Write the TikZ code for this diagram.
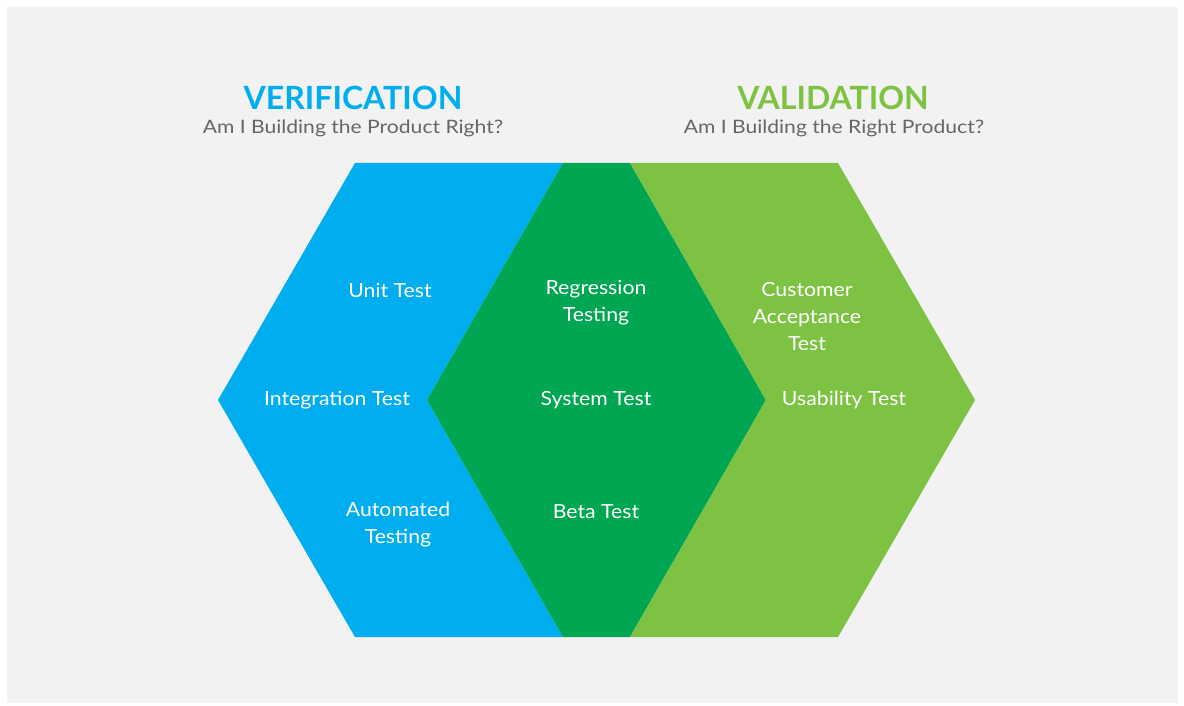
\documentclass[tikz,border=0pt]{standalone}
\usepackage{fontspec}
\setmainfont{Lato}
\newfontfamily\labelfont[FakeStretch=1.09]{Lato}
\newfontfamily\subfont[FakeStretch=1.14]{Lato}
\definecolor{vblue}{HTML}{00AEEF}
\definecolor{dgreen}{HTML}{00A651}
\definecolor{lgreen}{HTML}{7DC242}
\definecolor{bggray}{HTML}{F2F2F2}
\definecolor{subgray}{HTML}{666666}
\begin{document}
\begin{tikzpicture}[x=1pt,y=-1pt,
  title/.style={font=\fontsize{32}{36}\selectfont\bfseries},
  subtitle/.style={font=\subfont\fontsize{18.5}{22}\selectfont, text=subgray},
  label/.style={font=\labelfont\fontsize{19.5}{27}\selectfont, text=white, align=center, inner sep=0pt}]
  % page and panel
  \useasboundingbox (0,0) rectangle (1184,706);
  \fill[white] (0,0) rectangle (1184,706);
  \fill[bggray] (7,7) rectangle (1178,703);
  % verification hexagon (left)
  \fill[vblue] (355,163) -- (563,163) -- (427,400) -- (563,637) -- (355,637) -- (218,400) -- cycle;
  % shared diamond
  \fill[dgreen] (563,163) -- (630,163) -- (766,400) -- (630,637) -- (563,637) -- (427,400) -- cycle;
  % validation hexagon (right)
  \fill[lgreen] (630,163) -- (838,163) -- (975,400) -- (838,637) -- (630,637) -- (766,400) -- cycle;
  % headings
  \node[title, text=vblue] (vt) at (353,98) {VERIFICATION};
  \node[subtitle] (vs) at (353,128.5) {Am I Building the Product Right?};
  \node[title, text=lgreen] (at) at (833,98) {VALIDATION};
  \node[subtitle] (as) at (834,128.5) {Am I Building the Right Product?};
  % left labels
  \node[label] (unit) at (390,290) {Unit Test};
  \node[label] (integ) at (337,400) {Integration Test};
  \node[label] (auto) at (398,525) {Automated\\Testing};
  % middle labels
  \node[label] (reg) at (596,303) {Regression\\Testing};
  \node[label] (sys) at (596,400) {System Test};
  \node[label] (beta) at (596,512) {Beta Test};
  % right labels
  \node[label] (cust) at (807,317) {Customer\\Acceptance\\Test};
  \node[label] (usab) at (844,400) {Usability Test};
\end{tikzpicture}
\end{document}
